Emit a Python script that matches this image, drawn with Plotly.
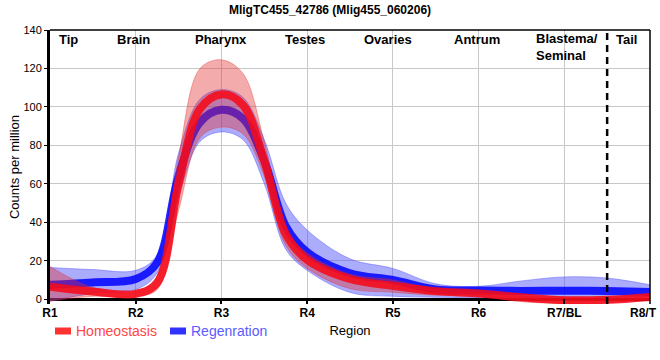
import plotly.graph_objects as go

# ---------------- data ----------------
tick_labels = ["R1", "R2", "R3", "R4", "R5", "R6", "R7/BL", "R8/T"]
region_names = ["Tip", "Brain", "Pharynx", "Testes", "Ovaries", "Antrum", "Blastema/<br>Seminal", "Tail"]
series_names = ["Homeostasis", "Regenration"]

# sample positions along the body axis (1 = R1 ... 8 = R8/T)
sample_pos = [1, 1.5, 2, 2.25, 2.5, 2.75, 3, 3.25, 3.5, 3.75, 4, 4.5, 5, 5.5, 6, 6.5, 7, 7.5, 8]

homeo_mean  = [6.5, 4.0, 2.8, 8.5, 60, 99, 106.5, 101, 72, 34, 20.5, 10.5, 7.0, 4.2, 3.0, 1.0, -0.5, -0.3, 1.2]
homeo_upper = [17, 6.0, 4.0, 12, 74, 120, 124.5, 117.5, 82, 37, 24, 13, 10, 5.0, 3.5, 1.5, 1.0, 1.0, 1.8]
homeo_lower = [-1, 1.5, 1.5, 5, 46, 84, 89.5, 86, 64, 28, 16, 5.5, 3.6, 2.0, 1.5, -1.3, -2.2, -2.0, 0.5]

regen_mean  = [7.5, 8.7, 10.5, 19, 64, 92, 98.5, 94, 72, 38, 24.5, 13.5, 10, 5.0, 4.5, 4.3, 4.4, 4.2, 3.7]
regen_upper = [16.5, 15.4, 15, 23, 76, 104, 109, 105, 83, 50, 36, 21, 16, 8.0, 6.7, 9.5, 11.6, 11, 7.5]
regen_lower = [-1, 3.0, 5.0, 13.5, 53, 82, 87, 83, 60, 26, 15, 3.5, 1.5, 1.0, 0.8, 1.0, 1.2, 1.2, 1.2]

boundary_pos = 7.5   # Blastema / Tail boundary

# ---------------- styling ----------------
FONT = "Liberation Sans, Arial, sans-serif"
RED_LINE = "rgba(245,10,25,0.88)"
BLUE_LINE = "rgba(0,0,255,0.85)"
RED_BAND = "rgba(225,45,45,0.40)"
BLUE_BAND = "rgba(70,70,250,0.45)"
RED_TXT = "rgb(255,70,70)"
BLUE_TXT = "rgb(90,90,255)"

fig = go.Figure()

def band(lower, upper, fillcol, edgecol):
    fig.add_trace(go.Scatter(x=sample_pos, y=lower, mode="lines",
                             line=dict(color=edgecol, width=0.8, shape="spline", smoothing=1.0),
                             showlegend=False, hoverinfo="skip"))
    fig.add_trace(go.Scatter(x=sample_pos, y=upper, mode="lines", fill="tonexty",
                             fillcolor=fillcol,
                             line=dict(color=edgecol, width=0.8, shape="spline", smoothing=1.0),
                             showlegend=False, hoverinfo="skip"))

band(regen_lower, regen_upper, BLUE_BAND, "rgba(70,70,250,0.5)")
fig.add_trace(go.Scatter(x=sample_pos, y=regen_mean, mode="lines", name=series_names[1],
                         line=dict(color=BLUE_LINE, width=8, shape="spline", smoothing=1.0),
                         showlegend=False))
band(homeo_lower, homeo_upper, RED_BAND, "rgba(225,45,45,0.45)")
fig.add_trace(go.Scatter(x=sample_pos, y=homeo_mean, mode="lines", name=series_names[0],
                         line=dict(color=RED_LINE, width=8, shape="spline", smoothing=1.0),
                         showlegend=False))

# layout geometry
L, R, T, B = 50, 10, 30, 56
W, H = 660, 360
PH = H - T - B

def py(px):   # pixel y -> paper y
    return (H - B - px) / PH

def pxx(px):  # pixel x -> paper x
    return (px - L) / (W - L - R)

shapes = [
    # top and right frame (thin)
    dict(type="line", xref="paper", yref="paper", x0=0, x1=1, y0=1, y1=1,
         line=dict(color="black", width=1.5)),
    dict(type="line", xref="paper", yref="paper", x0=1, x1=1, y0=0, y1=1,
         line=dict(color="black", width=1.5)),
    # region boundary
    dict(type="line", xref="x", yref="paper", x0=boundary_pos, x1=boundary_pos, y0=0, y1=1,
         line=dict(color="black", width=2.5, dash="7px,5px")),
    # legend swatches
    dict(type="rect", xref="paper", yref="paper", x0=pxx(55), x1=pxx(71), y0=py(334.5), y1=py(327.5),
         fillcolor="rgb(255,50,50)", line=dict(width=0)),
    dict(type="rect", xref="paper", yref="paper", x0=pxx(170), x1=pxx(186), y0=py(334.5), y1=py(327.5),
         fillcolor="rgb(50,50,255)", line=dict(width=0)),
]

annotations = []
label_x = [1.22, 1.97, 3.0, 3.97, 4.94, 5.98, 6.65, 7.72]
for i, name in enumerate(region_names):
    two = "<br>" in name
    annotations.append(dict(
        x=label_x[i], y=py(47 if two else 40), xref="x", yref="paper",
        text=f"<b>{name}</b>", showarrow=False,
        xanchor="left" if two else "center", yanchor="middle", align="left",
        font=dict(family=FONT, size=13, color="black")))

# last tick label sits at the right edge: anchor it to the right so it stays readable
annotations.append(dict(
    x=pxx(659), y=py(313), xref="paper", yref="paper",
    text=f"<b>{tick_labels[-1]}</b>", showarrow=False, xanchor="right", yanchor="middle",
    font=dict(family=FONT, size=12, color="black")))

annotations += [
    dict(x=pxx(74), y=py(331), xref="paper", yref="paper", text=series_names[0],
         showarrow=False, xanchor="left", yanchor="middle",
         font=dict(family=FONT, size=14, color=RED_TXT)),
    dict(x=pxx(189), y=py(331), xref="paper", yref="paper", text=series_names[1],
         showarrow=False, xanchor="left", yanchor="middle",
         font=dict(family=FONT, size=14, color=BLUE_TXT)),
]

tick_text = [f"<b>{t}</b>" for t in tick_labels[:-1]] + [""]

fig.update_layout(
    width=W, height=H,
    margin=dict(l=L, r=R, t=T, b=B, pad=0),
    paper_bgcolor="white", plot_bgcolor="white",
    font=dict(family=FONT, color="black"),
    title=dict(text="<b>MligTC455_42786 (Mlig455_060206)</b>", x=0.5, xanchor="center",
               y=1 - 9.5 / H, yanchor="middle", font=dict(family=FONT, size=12, color="black")),
    showlegend=False,
    shapes=shapes,
    annotations=annotations,
    xaxis=dict(range=[1, 8], tickmode="array", tickvals=list(range(1, 9)), ticktext=tick_text,
               tickfont=dict(family=FONT, size=12, color="black"),
               showgrid=True, gridcolor="#c8c8c8", gridwidth=1,
               zeroline=False, showline=False,
               ticks="inside", ticklen=5, tickwidth=2, tickcolor="black",
               title=dict(text="Region", font=dict(family=FONT, size=13, color="black"), standoff=6),
               automargin=False, fixedrange=True),
    yaxis=dict(range=[-2.5, 140], tickmode="array", tickvals=list(range(0, 141, 20)),
               tickfont=dict(family=FONT, size=11, color="black"),
               showgrid=True, gridcolor="#c8c8c8", gridwidth=1,
               zeroline=True, zerolinecolor="black", zerolinewidth=3,
               showline=True, linecolor="black", linewidth=3,
               ticks="outside", ticklen=3, tickwidth=1, tickcolor="black",
               title=dict(text="Counts per million", font=dict(family=FONT, size=13, color="black"), standoff=1),
               automargin=False, fixedrange=True),
)

fig.write_html("out.html", config={"displayModeBar": False},
               post_script="document.body.style.margin='0';document.body.style.overflow='hidden';")
